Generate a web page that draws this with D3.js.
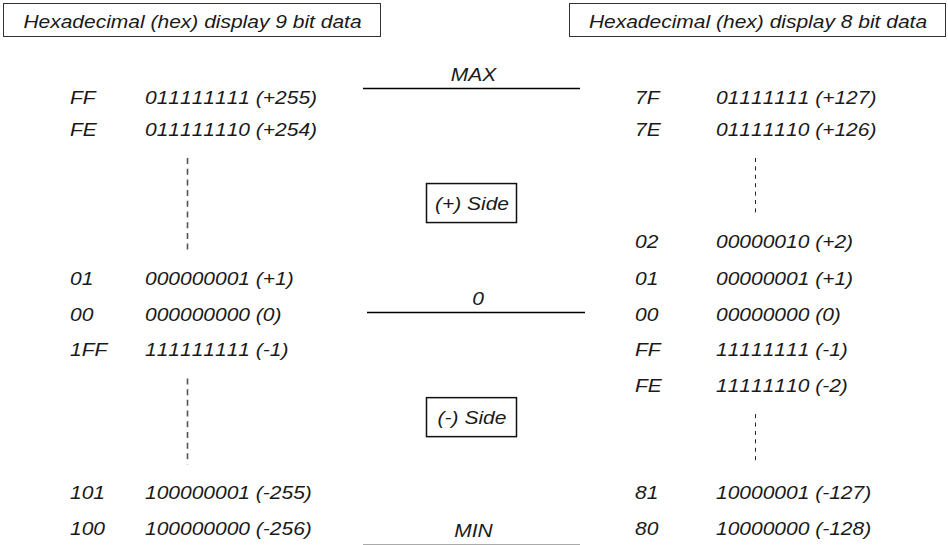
<!DOCTYPE html>
<html>
<head>
<meta charset="utf-8">
<script src="https://cdn.jsdelivr.net/npm/d3@7"></script>
<style>
  body { margin: 0; background: #fff; }
  text { font-family: "Liberation Sans", Arial, sans-serif; font-style: italic; font-size: 17.5px;
         font-kerning: none; fill: #1a1a1a; }
</style>
</head>
<body>
<svg id="chart" width="948" height="545"></svg>
<script>
var svg = d3.select("#chart"),
    width = +svg.attr("width"),
    height = +svg.attr("height"),
    sx = 1.2;   // the source font is drawn a little wide

// DATA: row slot of each code (0 = top), hex and binary labels
var leftTitle = "Hexadecimal (hex) display 9 bit data";
var leftRows = [0, 1, 5, 6, 7, 11, 12];
var leftHex  = ["FF", "FE", "01", "00", "1FF", "101", "100"];
var leftBin  = ["011111111 (+255)", "011111110 (+254)", "000000001 (+1)",
                "000000000 (0)", "111111111 (-1)", "100000001 (-255)", "100000000 (-256)"];

var rightTitle = "Hexadecimal (hex) display 8 bit data";
var rightRows = [0, 1, 4, 5, 6, 7, 8, 11, 12];
var rightHex  = ["7F", "7E", "02", "01", "00", "FF", "FE", "81", "80"];
var rightBin  = ["01111111 (+127)", "01111110 (+126)", "00000010 (+2)", "00000001 (+1)",
                 "00000000 (0)", "11111111 (-1)", "11111110 (-2)", "10000001 (-127)", "10000000 (-128)"];

// gaps in each column, drawn as dotted "..." lines (from row, to row)
var leftGaps  = [[1, 5], [7, 11]];
var rightGaps = [[1, 4], [8, 11]];

// range markers in the middle column (boundary row slots)
var markerLabels = ["MAX", "0", "MIN"];
var markerRows   = [-0.5, 5.75, 12.25];
var sideLabels = ["(+) Side", "(-) Side"];
var sideRows   = [2.8, 8.7];

// row slot -> baseline y
var y = d3.scaleLinear().domain([0, 1, 5, 12]).range([104, 136, 285, 535]);

function label(g, x, yy, txt, anchor) {
  return g.append("text")
    .attr("transform", "translate(" + x + "," + yy + ") scale(" + sx + ",1)")
    .attr("text-anchor", anchor || "start")
    .text(txt);
}

function column(opts) {
  var g = svg.append("g").attr("class", "column");

  // title box
  g.append("rect")
    .attr("x", opts.box[0] + 0.5).attr("y", 3.5)
    .attr("width", opts.box[1] - opts.box[0]).attr("height", 33)
    .attr("fill", "none").attr("stroke", "#333").attr("stroke-width", 1);
  label(g, (opts.box[0] + opts.box[1]) / 2 + 1, 28, opts.title, "middle");

  opts.rows.forEach(function(r, i) {
    label(g, opts.hexX, y(r), opts.hex[i]);
    label(g, opts.binX, y(r), opts.bin[i]);
  });

  g.selectAll("line.gap")
    .data(opts.gaps)
    .enter().append("line")
    .attr("class", "gap")
    .attr("x1", opts.dotX).attr("x2", opts.dotX)
    .attr("y1", d => y(d[0]) + 22)
    .attr("y2", d => y(d[1]) - 35)
    .attr("stroke", opts.dotColor)
    .attr("stroke-width", opts.dotWidth)
    .attr("stroke-dasharray", opts.dash);
}

column({
  title: leftTitle, box: [3, 380], rows: leftRows, hex: leftHex, bin: leftBin,
  gaps: leftGaps, hexX: 70, binX: 145, dotX: 187.5,
  dotColor: "#555", dotWidth: 1.6, dash: "6,4.7"
});

column({
  title: rightTitle, box: [569, 945], rows: rightRows, hex: rightHex, bin: rightBin,
  gaps: rightGaps, hexX: 635, binX: 716, dotX: 755.5,
  dotColor: "#222", dotWidth: 1, dash: "4,4.4"
});

// middle column: MAX / 0 / MIN levels
var mid = svg.append("g").attr("class", "middle");
var lineX = [[363, 580], [367, 585], [363, 580]];
var lineColor = ["#000", "#000", "#aaa"];

markerLabels.forEach(function(m, i) {
  var ly = Math.round(y(markerRows[i])) + 0.5;
  mid.append("line")
    .attr("x1", lineX[i][0]).attr("x2", lineX[i][1])
    .attr("y1", ly).attr("y2", ly)
    .attr("stroke", lineColor[i])
    .attr("stroke-width", i < 2 ? 1.6 : 1.2);
  label(mid, (lineX[i][0] + lineX[i][1]) / 2 + 2, ly - 8, m, "middle");
});

sideLabels.forEach(function(s, i) {
  var cy = y(sideRows[i]);
  mid.append("rect")
    .attr("x", 426.5).attr("y", cy - 19.5)
    .attr("width", 90).attr("height", 39)
    .attr("fill", "none").attr("stroke", "#111").attr("stroke-width", 1.5);
  label(mid, 472, cy + 6.5, s, "middle");
});
</script>
</body>
</html>
